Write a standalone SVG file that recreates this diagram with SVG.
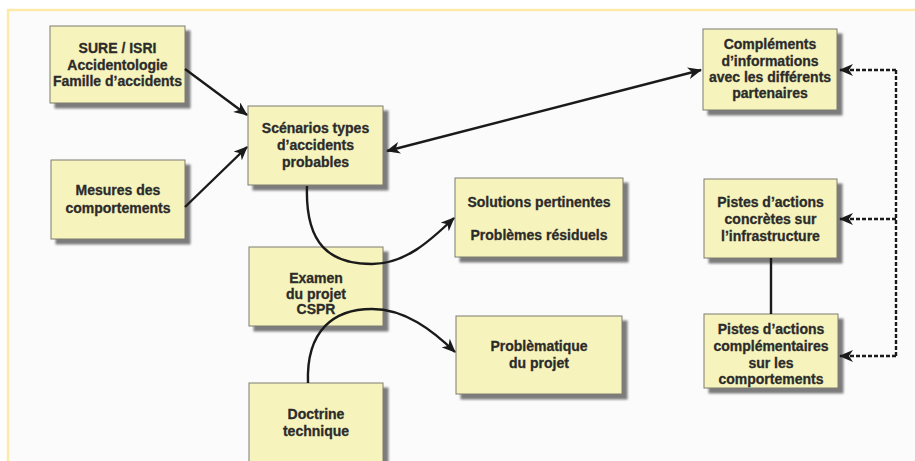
<svg xmlns="http://www.w3.org/2000/svg" width="915" height="461" viewBox="0 0 915 461">
  <style>
    .box { fill: #f7f3bc; stroke: #7d7d72; stroke-width: 1; filter: url(#shadow); }
    .lbl { font-family: "Liberation Sans", Arial, sans-serif; font-weight: bold; font-size: 14px; fill: #2b2b2b; stroke: #2b2b2b; stroke-width: 0.3; text-anchor: middle; }
    .link { fill: none; stroke: #1a1a1a; stroke-width: 2.4; }
    .dash { fill: none; stroke: #1a1a1a; stroke-width: 2.4; stroke-dasharray: 4 2; }
  </style>
  <defs>
    <filter id="shadow" x="-10%" y="-10%" width="125%" height="130%">
      <feDropShadow dx="5" dy="5" stdDeviation="1.2" flood-color="#6e6e6e" flood-opacity="0.9"/>
    </filter>
    <marker id="arrow" viewBox="0 0 14 12" refX="13" refY="6" markerWidth="14" markerHeight="12" markerUnits="userSpaceOnUse" orient="auto-start-reverse">
      <path d="M0,0 L14,6 L0,12 L4,6 z" fill="#1a1a1a"/>
    </marker>
  </defs>

  <!-- page frame -->
  <rect x="0" y="0" width="915" height="461" fill="#ffffff"/>
  <rect x="8" y="10" width="907" height="451" fill="#fbfbfc"/>
  <line x1="7" y1="10" x2="915" y2="10" stroke="#fde9a8" stroke-width="2.5"/>
  <line x1="8" y1="9" x2="8" y2="461" stroke="#fde9a8" stroke-width="2.5"/>

  <!-- nodes -->
  <g id="sure-isri">
    <rect class="box" x="50" y="26" width="135" height="77"/>
    <text class="lbl" x="117.5" y="53">SURE / ISRI</text>
    <text class="lbl" x="117.5" y="69.5">Accidentologie</text>
    <text class="lbl" x="117.5" y="86">Famille d’accidents</text>
  </g>
  <g id="mesures">
    <rect class="box" x="51" y="160" width="134" height="79"/>
    <text class="lbl" x="118" y="195">Mesures des</text>
    <text class="lbl" x="118" y="213">comportements</text>
  </g>
  <g id="scenarios">
    <rect class="box" x="248" y="106" width="135" height="79"/>
    <text class="lbl" x="315.5" y="133">Scénarios types</text>
    <text class="lbl" x="315.5" y="150">d’accidents</text>
    <text class="lbl" x="315.5" y="167">probables</text>
  </g>
  <g id="complements">
    <rect class="box" x="703" y="29" width="134" height="81"/>
    <text class="lbl" x="770" y="49">Compléments</text>
    <text class="lbl" x="770" y="66">d’informations</text>
    <text class="lbl" x="770" y="82">avec les différents</text>
    <text class="lbl" x="770" y="98">partenaires</text>
  </g>
  <g id="solutions">
    <rect class="box" x="455" y="178" width="168" height="79"/>
    <text class="lbl" x="539" y="207">Solutions pertinentes</text>
    <text class="lbl" x="539" y="240">Problèmes résiduels</text>
  </g>
  <g id="examen">
    <rect class="box" x="249" y="247" width="134" height="79"/>
    <text class="lbl" x="316" y="283">Examen</text>
    <text class="lbl" x="316" y="299">du projet</text>
    <text class="lbl" x="316" y="314">CSPR</text>
  </g>
  <g id="problematique">
    <rect class="box" x="456" y="316" width="166" height="78"/>
    <text class="lbl" x="539" y="351">Problèmatique</text>
    <text class="lbl" x="539" y="368">du projet</text>
  </g>
  <g id="doctrine">
    <rect class="box" x="249" y="383" width="134" height="90"/>
    <text class="lbl" x="316" y="419">Doctrine</text>
    <text class="lbl" x="316" y="436">technique</text>
  </g>
  <g id="pistes-infra">
    <rect class="box" x="704" y="179" width="133" height="79"/>
    <text class="lbl" x="770.5" y="207">Pistes d’actions</text>
    <text class="lbl" x="770.5" y="224">concrètes sur</text>
    <text class="lbl" x="770.5" y="241">l’infrastructure</text>
  </g>
  <g id="pistes-comport">
    <rect class="box" x="704" y="314" width="134" height="74"/>
    <text class="lbl" x="771" y="334">Pistes d’actions</text>
    <text class="lbl" x="771" y="351">complémentaires</text>
    <text class="lbl" x="771" y="368">sur les</text>
    <text class="lbl" x="771" y="384">comportements</text>
  </g>

  <!-- connectors, drawn over the boxes they cross -->
  <g id="connectors">
    <line class="link" x1="185" y1="69" x2="247" y2="115" marker-end="url(#arrow)"/>
    <line class="link" x1="185" y1="207" x2="247" y2="147" marker-end="url(#arrow)"/>
    <line class="link" x1="387" y1="151" x2="701" y2="70" marker-start="url(#arrow)" marker-end="url(#arrow)"/>
    <path class="link" d="M307,186 C305,245 330,264 372,264 C405,264 430,241 454,218" marker-end="url(#arrow)"/>
    <path class="link" d="M308,383 C306,330 334,309 372,309 C405,309 432,330 455,352" marker-end="url(#arrow)"/>
    <line class="link" x1="771" y1="258" x2="771" y2="314" stroke-width="2"/>
    <path class="dash" d="M896,70 L896,356"/>
    <line class="dash" x1="896" y1="70" x2="840" y2="70" marker-end="url(#arrow)"/>
    <line class="dash" x1="896" y1="219" x2="840" y2="219" marker-end="url(#arrow)"/>
    <line class="dash" x1="896" y1="356" x2="840" y2="356" marker-end="url(#arrow)"/>
  </g>
</svg>
